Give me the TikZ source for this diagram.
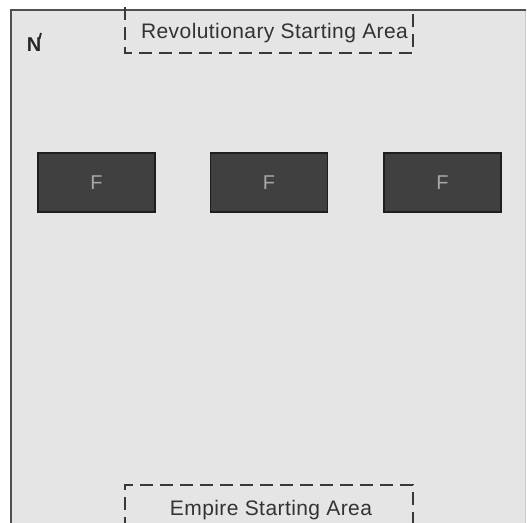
\documentclass[tikz,border=0pt]{standalone}
\usepackage{fontspec}
\setmainfont{Liberation Sans}
\newfontfamily\areafont[LetterSpace=2]{Liberation Sans}
\definecolor{panelbg}{HTML}{E5E5E5}
\definecolor{panelborder}{HTML}{505050}
\definecolor{panelright}{HTML}{CACACA}
\definecolor{fboxfill}{HTML}{404040}
\definecolor{fboxline}{HTML}{1E1E1E}
\definecolor{ftext}{HTML}{A8A8A8}
\definecolor{arealine}{HTML}{383838}
\definecolor{areatext}{HTML}{333333}
\tikzset{
  fbox/.style={draw=fboxline, fill=fboxfill, line width=1.2pt, minimum width=117pt, minimum height=59pt, inner sep=0pt, text=ftext, font=\fontsize{20}{20}\selectfont},
  areabox/.style={draw=arealine, line width=2pt, dash pattern=on 13pt off 7pt},
  arealabel/.style={text=areatext, font=\areafont\fontsize{21}{21}\selectfont, inner sep=0pt, anchor=base},
  northlabel/.style={text=black!85, font=\bfseries\fontsize{20}{20}\selectfont, inner sep=0pt}
}
\begin{document}
\begin{tikzpicture}[x=1pt,y=-1pt]
\useasboundingbox (0,0) rectangle (527,522);
\fill[white] (0,0) rectangle (527,522);
\begin{scope}
\clip (0,0) rectangle (527,522);
\fill[panelbg] (10,10) rectangle (526,540);
\draw[panelright, line width=1pt] (525.5,10) -- (525.5,540);
\draw[panelborder, line width=2.5pt] (11,540) -- (11,9.75) -- (526,9.75);
% starting areas
\draw[areabox] (125,7) -- (125,53) -- (413,53) -- (413,7);
\draw[areabox] (125,530) -- (125,485) -- (413,485) -- (413,530);
\end{scope}
\node[arealabel] (rev) at (274.5,38.5) {Revolutionary Starting Area};
\node[arealabel] (emp) at (271,515) {Empire Starting Area};
% north marker
\node[northlabel] (north) at (34,45) {N};
\draw[black!85, line width=1.8pt] (north.north east) ++(-2,1) -- ++(1.5,-6);
% F blocks
\node[fbox] (f1) at (96.5,182.5) {F};
\node[fbox] (f2) at (269,182.5) {F};
\node[fbox] (f3) at (442.5,182.5) {F};
\end{tikzpicture}
\end{document}
